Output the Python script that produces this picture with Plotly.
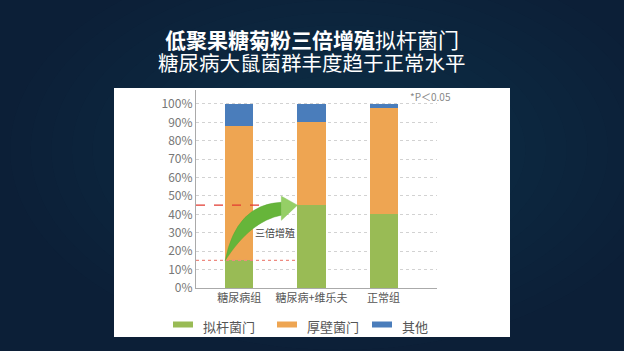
import plotly.graph_objects as go

categories = ["糖尿病组", "糖尿病+维乐夫", "正常组"]
series_names = ["拟杆菌门", "厚壁菌门", "其他"]
bacteroidetes = [15, 45, 40]
firmicutes = [73, 45, 58]
others = [12, 10, 2]
series_values = [bacteroidetes, firmicutes, others]
series_colors = ["#99bb55", "#eea552", "#4a7dbb"]
y_ticks = [0, 10, 20, 30, 40, 50, 60, 70, 80, 90, 100]
y_tick_labels = [f"{v}%" for v in y_ticks]
title_line1 = "<b>低聚果糖菊粉三倍增殖</b>拟杆菌门"
title_line2 = "糖尿病大鼠菌群丰度趋于正常水平"
arrow_label = "三倍增殖"
note_text = "*P＜0.05"

W, H = 624, 351
FONT = "Noto Sans CJK SC"
BW = 0.39
xpos = list(range(len(categories)))

fig = go.Figure()
for name, vals, col in zip(series_names, series_values, series_colors):
    fig.add_trace(go.Bar(x=xpos, y=vals, name=name, marker=dict(color=col, line=dict(width=0)),
                         width=BW, showlegend=False, hoverinfo="skip"))

def px(x):
    return x / W

def py(y):
    return (H - y) / H

shapes = []
# subtle smooth background glow (many faint concentric ellipses)
n_rings = 16
for i in range(n_rings):
    f = 1 - i / n_rings
    rx, ry = 330 * f, 200 * f
    cx, cy = 340, 150
    shapes.append(dict(type="circle", xref="paper", yref="paper", x0=px(cx - rx), x1=px(cx + rx),
                       y0=py(cy + ry), y1=py(cy - ry), fillcolor="rgba(70,100,135,0.016)",
                       line=dict(width=0), layer="below"))
# white panel
shapes.append(dict(type="rect", xref="paper", yref="paper", x0=px(114), x1=px(510), y0=py(337), y1=py(88),
                   fillcolor="white", line=dict(width=0), layer="below"))

g1, g2 = bacteroidetes[0], bacteroidetes[1]
xl = -0.6
tip_x = xpos[1] - BW / 2
start_x = xpos[0] - BW / 2
# reference lines
shapes.append(dict(type="line", xref="x", yref="y", x0=xl, x1=tip_x, y0=g2, y1=g2,
                   line=dict(color="#e23b30", width=1.3, dash="dash"), layer="above"))
shapes.append(dict(type="line", xref="x", yref="y", x0=xl, x1=tip_x, y0=g1, y1=g1,
                   line=dict(color="#ee8a80", width=1.2, dash="dot"), layer="above"))

# curved arrow
def pt(dx, dy):
    return f"{tip_x + dx},{g2 + dy}"

shaft = (f"M{start_x},{g1} Q{pt(-0.847, 0.5)} {pt(-0.222, 1.6)} "
         f"L{pt(-0.222, -5.4)} Q{pt(-0.653, -8.7)} {start_x},{g1} Z")
head = f"M{pt(-0.222, 4.9)} L{tip_x},{g2} L{pt(-0.222, -8.2)} Z"
shapes.append(dict(type="path", xref="x", yref="y", path=shaft, fillcolor="#66b53a",
                   line=dict(color="#5aa832", width=0.5), layer="above"))
shapes.append(dict(type="path", xref="x", yref="y", path=head, fillcolor="#95cf66",
                   line=dict(color="#86c458", width=0.5), layer="above"))

annotations = [
    dict(text=title_line1, x=0.5, y=py(38.5), xref="paper", yref="paper", showarrow=False,
         font=dict(family=FONT, size=21, color="white"), xanchor="center", yanchor="middle"),
    dict(text=title_line2, x=0.5, y=py(62), xref="paper", yref="paper", showarrow=False,
         font=dict(family=FONT, size=20.5, color="white"), xanchor="center", yanchor="middle"),
    dict(text=arrow_label, x=(xpos[0] + xpos[1]) / 2, y=(g1 + g2) / 2, xref="x", yref="y", showarrow=False,
         font=dict(family=FONT, size=10, color="#444444"), xanchor="center", yanchor="middle"),
    dict(text=note_text, x=px(453), y=py(96), xref="paper", yref="paper", showarrow=False,
         font=dict(family=FONT, size=10, color="#888888"), xanchor="right", yanchor="middle"),
]

# manual legend
legend_x = [173, 277, 372]
for name, col, lx in zip(series_names, series_colors, legend_x):
    shapes.append(dict(type="rect", xref="paper", yref="paper", x0=px(lx), x1=px(lx + 20),
                       y0=py(327.5), y1=py(321.5), fillcolor=col, line=dict(width=0)))
    annotations.append(dict(text=name, x=px(lx + 28), y=py(326), xref="paper", yref="paper",
                            showarrow=False, xanchor="left", yanchor="middle",
                            font=dict(family=FONT, size=13, color="#555555")))

fig.update_layout(
    template="none",
    width=W, height=H, margin=dict(l=0, r=0, t=0, b=0, pad=0, autoexpand=False),
    paper_bgcolor="#0c1f37", plot_bgcolor="rgba(0,0,0,0)",
    barmode="stack", bargap=0,
    shapes=shapes, annotations=annotations, showlegend=False,
    font=dict(family=FONT),
    xaxis=dict(domain=[px(196), px(437)], range=[-0.6, 2.74], tickvals=xpos, ticktext=categories,
               automargin=False,
               showline=True, linecolor="#aaaaaa", linewidth=1.2, showgrid=False, zeroline=False,
               ticks="", tickfont=dict(family=FONT, size=11, color="#555555"), fixedrange=True),
    yaxis=dict(domain=[py(288), py(90)], range=[0, 107.6], tickvals=y_ticks, ticktext=y_tick_labels,
               automargin=False,
               showline=True, linecolor="#aaaaaa", linewidth=1.2, showgrid=True,
               gridcolor="#d2d2d2", griddash="dot", gridwidth=1, zeroline=False,
               ticks="", tickfont=dict(family=FONT, size=12, color="#777777"), fixedrange=True),
)

fig.write_html("out.html")
